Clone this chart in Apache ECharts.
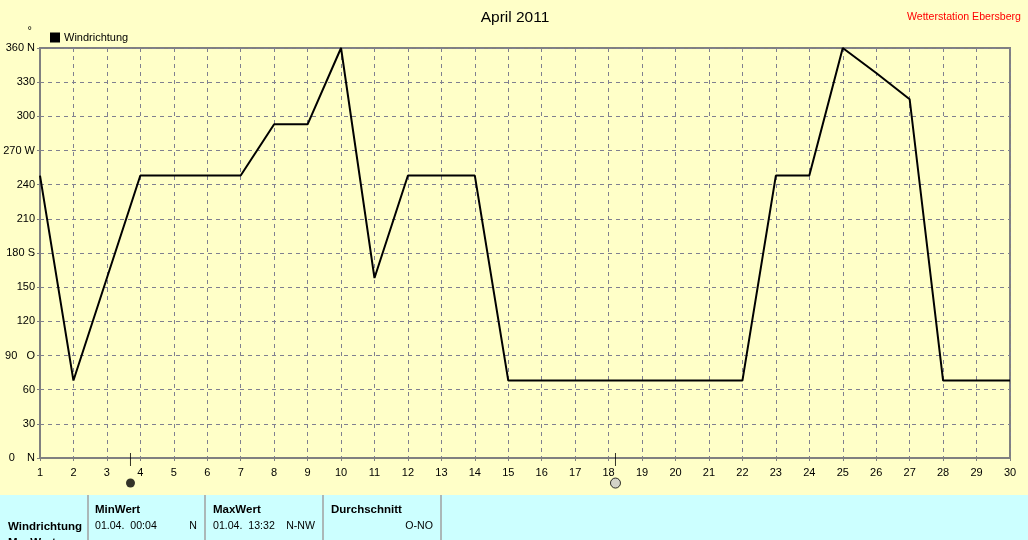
<!DOCTYPE html>
<html>
<head>
<meta charset="utf-8">
<title>April 2011</title>
<script src="https://cdn.jsdelivr.net/npm/echarts@6/dist/echarts.min.js"></script>
<style>
  html, body { margin: 0; padding: 0; background: #ffffc8; overflow: hidden; }
  #chart { width: 1028px; height: 540px; }
</style>
</head>
<body>
<div id="chart"></div>
<script>
// Tage im Monat
const days = [1, 2, 3, 4, 5, 6, 7, 8, 9, 10, 11, 12, 13, 14, 15, 16, 17, 18, 19, 20, 21, 22, 23, 24, 25, 26, 27, 28, 29, 30];
// Windrichtung in Grad
const windDirection = [248, 68, 158, 248, 248, 248, 248, 293, 293, 360, 158, 248, 248, 248, 68, 68, 68, 68, 68, 68, 68, 68, 248, 248, 360, 338, 315, 68, 68, 68];
// Mondphasen (Tag)
const newMoonDay = [3.705];
const fullMoonDay = [18.205];
const compassLabels = { 0: "0    N", 90: "90   O", 180: "180 S", 270: "270 W", 360: "360 N" };

const statColumns = [
  { x: 95, right: 197, head: "MinWert", time: "01.04.  00:04", dir: "N" },
  { x: 213, right: 315, head: "MaxWert", time: "01.04.  13:32", dir: "N-NW" },
  { x: 331, right: 433, head: "Durchschnitt", time: "", dir: "O-NO" },
];
const separators = [88, 205, 323, 441];

const font = "Liberation Sans";
const chartDom = document.getElementById("chart");
const myChart = echarts.init(chartDom);

function panelText(x, y, text, bold, align) {
  return {
    type: "text",
    x: x,
    y: y,
    silent: true,
    style: {
      text: text,
      fill: "#000",
      font: (bold ? "bold 11.5px '" : "10.6px '") + font + "'",
      textAlign: align || "left",
      textVerticalAlign: "middle",
    },
  };
}

const panel = [
  {
    type: "rect",
    silent: true,
    shape: { x: 0, y: 495, width: 1028, height: 45 },
    style: { fill: "#ccffff" },
  },
  panelText(8, 527, "Windrichtung", true),
  panelText(8, 543, "MaxWert", true),
];
separators.forEach((x) => {
  panel.push({
    type: "line",
    silent: true,
    shape: { x1: x, y1: 495, x2: x, y2: 540 },
    style: { stroke: "#a0a0a0", lineWidth: 1.5 },
  });
});
statColumns.forEach((c) => {
  panel.push(panelText(c.x, 510, c.head, true));
  if (c.time) panel.push(panelText(c.x, 526, c.time, false));
  panel.push(panelText(c.right, 526, c.dir, false, "right"));
});

const option = {
  backgroundColor: "#ffffc8",
  animation: false,
  title: [
    {
      text: "April 2011",
      left: 510,
      top: 5,
      textAlign: "center",
      textStyle: { fontFamily: font, fontSize: 15.5, fontWeight: "normal", color: "#000" },
    },
    {
      text: "Wetterstation Ebersberg",
      right: 2,
      top: 7,
      textStyle: { fontFamily: font, fontSize: 10.6, fontWeight: "normal", color: "#ff0000" },
    },
  ],
  legend: {
    left: 50,
    top: 32,
    itemWidth: 10,
    itemHeight: 10,
    itemGap: 4,
    padding: 0,
    data: [{ name: "Windrichtung", icon: "rect" }],
    textStyle: { fontFamily: font, fontSize: 11, color: "#000", padding: [0, 0, 0, -1] },
  },
  grid: {
    left: 40,
    right: 18,
    top: 48,
    height: 410,
    show: true,
    borderColor: "#808080",
    borderWidth: 2,
  },
  xAxis: {
    type: "value",
    min: 1,
    max: 30,
    interval: 1,
    axisLine: { onZero: false, lineStyle: { color: "#808080", width: 2 } },
    axisTick: { show: true, length: 3, lineStyle: { color: "#808080" } },
    axisLabel: { color: "#000", fontFamily: font, fontSize: 11, margin: 9, hideOverlap: false, showMinLabel: true, showMaxLabel: true },
    splitLine: { show: true, lineStyle: { color: "#808090", type: [4, 4], width: 1 } },
  },
  yAxis: {
    type: "value",
    min: 0,
    max: 360,
    interval: 30,
    name: "°",
    nameLocation: "end",
    nameGap: 12,
    nameTextStyle: { color: "#000", fontFamily: font, fontSize: 11, align: "right", padding: [0, 8, 0, 0] },
    axisLine: { show: true, lineStyle: { color: "#808080", width: 2 } },
    axisTick: { show: true, length: 3, lineStyle: { color: "#808080" } },
    axisLabel: {
      color: "#000",
      fontFamily: font,
      fontSize: 11,
      margin: 5,
      showMinLabel: true,
      showMaxLabel: true,
      formatter: (v) => compassLabels[v] || String(v),
    },
    splitLine: { show: true, lineStyle: { color: "#808090", type: [4, 4], width: 1 } },
  },
  series: [
    {
      name: "Windrichtung",
      type: "line",
      data: days.map((d, i) => [d, windDirection[i]]),
      symbol: "none",
      lineStyle: { color: "#000", width: 2 },
      itemStyle: { color: "#000" },
      silent: true,
    },
    // Markierungen der Mondphasen unter der Achse
    {
      type: "scatter",
      clip: false,
      silent: true,
      symbol: "rect",
      symbolSize: [1, 13],
      itemStyle: { color: "#000" },
      data: newMoonDay.concat(fullMoonDay).map((d) => [d, -1.3]),
    },
    {
      type: "scatter",
      clip: false,
      silent: true,
      symbol: "circle",
      symbolSize: 9,
      itemStyle: { color: "#000" },
      data: newMoonDay.map((d) => [d, -22]),
    },
    {
      type: "scatter",
      clip: false,
      silent: true,
      symbol: "circle",
      symbolSize: 10,
      itemStyle: { color: "#c8c8c8", borderColor: "#000", borderWidth: 1 },
      data: fullMoonDay.map((d) => [d, -22]),
    },
  ],
  graphic: panel,
};

myChart.setOption(option);
</script>
</body>
</html>
